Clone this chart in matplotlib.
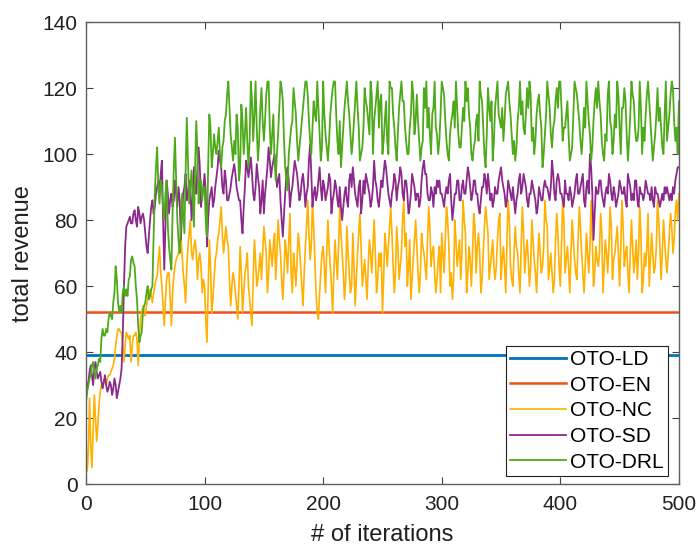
import numpy as np
import matplotlib
matplotlib.use("Agg")
import matplotlib.pyplot as plt

plt.rcParams['font.family'] = ['Liberation Sans', 'DejaVu Sans']

# one value per iteration, 0..500
iters = np.arange(0, 501)

ld_value = 39.2
en_value = 52.1

nc = [
    14, 4, 10, 26, 12, 5, 16, 27, 20, 13, 18, 24, 28, 30, 29, 31, 32, 30, 32, 33, 33, 34, 35, 36, 38,
    42, 45, 47, 47, 46, 46, 42, 37, 42, 46, 45, 44, 45, 37, 42, 45, 45, 46, 44, 36, 44, 50, 52, 54, 52,
    51, 54, 56, 58, 59, 57, 55, 58, 60, 62, 63, 68, 72, 64, 60, 54, 48, 56, 62, 64, 64, 56, 48, 58, 63,
    66, 68, 69, 70, 72, 75, 70, 64, 60, 55, 66, 72, 76, 80, 70, 68, 72, 74, 70, 62, 68, 70, 66, 58, 62,
    60, 50, 43, 58, 74, 66, 52, 56, 62, 68, 70, 74, 76, 80, 84, 76, 70, 74, 78, 74, 72, 62, 54, 60, 64,
    62, 58, 54, 50, 60, 72, 64, 52, 58, 64, 66, 70, 60, 56, 52, 48, 62, 74, 68, 60, 62, 66, 70, 62, 70,
    78, 74, 70, 58, 64, 74, 70, 66, 72, 76, 62, 70, 80, 74, 70, 62, 56, 64, 74, 70, 64, 74, 82, 64, 58,
    70, 66, 60, 68, 76, 72, 66, 60, 54, 64, 72, 78, 86, 76, 68, 72, 86, 78, 68, 58, 52, 50, 58, 64, 70,
    72, 66, 58, 70, 80, 72, 66, 60, 52, 64, 74, 68, 62, 72, 84, 76, 70, 64, 56, 62, 78, 70, 64, 58, 60,
    76, 66, 54, 62, 70, 76, 82, 72, 60, 64, 68, 62, 56, 66, 74, 70, 64, 72, 80, 70, 58, 62, 70, 66, 70,
    52, 62, 76, 72, 66, 72, 78, 84, 76, 66, 58, 64, 78, 72, 62, 66, 70, 80, 86, 72, 76, 60, 66, 74, 56,
    62, 68, 74, 80, 72, 64, 58, 64, 76, 72, 70, 66, 62, 74, 84, 78, 66, 70, 72, 64, 58, 62, 68, 72, 58,
    76, 70, 64, 74, 84, 80, 72, 60, 64, 56, 62, 80, 74, 66, 70, 74, 62, 70, 86, 80, 76, 58, 64, 72, 68,
    60, 70, 82, 78, 64, 72, 76, 70, 58, 62, 70, 78, 84, 80, 76, 62, 66, 70, 74, 66, 62, 66, 74, 80, 82,
    62, 68, 72, 66, 58, 74, 86, 80, 66, 62, 60, 70, 78, 72, 70, 64, 58, 72, 84, 76, 64, 70, 74, 68, 60,
    66, 80, 74, 68, 64, 58, 68, 76, 70, 64, 66, 72, 86, 80, 78, 62, 66, 70, 64, 58, 62, 74, 82, 76, 66,
    60, 72, 86, 80, 64, 68, 72, 66, 58, 70, 80, 74, 68, 64, 62, 74, 84, 78, 70, 64, 58, 66, 76, 70, 64,
    72, 86, 74, 60, 64, 72, 68, 66, 70, 82, 76, 58, 66, 74, 70, 64, 72, 84, 78, 62, 68, 70, 74, 78, 70,
    60, 72, 86, 78, 66, 70, 72, 64, 58, 70, 80, 72, 64, 68, 74, 62, 70, 84, 76, 58, 62, 70, 66, 72, 82,
    60, 68, 76, 70, 64, 66, 72, 86, 80, 72, 62, 70, 80, 74, 68, 64, 70, 76, 82, 78, 70, 74, 82, 86, 80,
    88,
]

sd = [
    28, 30, 31, 34, 36, 33, 30, 35, 37, 34, 32, 33, 34, 31, 29, 31, 33, 30, 28, 29, 31, 30, 27, 29, 32,
    30, 26, 28, 30, 32, 35, 45, 60, 72, 78, 79, 80, 81, 79, 79, 82, 83, 80, 78, 84, 82, 79, 81, 82, 80,
    76, 72, 70, 75, 80, 84, 86, 82, 84, 88, 90, 92, 88, 94, 98, 80, 65, 78, 92, 88, 82, 86, 88, 84, 86,
    92, 88, 84, 90, 86, 74, 82, 88, 90, 94, 86, 88, 92, 90, 80, 86, 96, 90, 88, 96, 102, 96, 84, 88, 90,
    94, 88, 72, 80, 86, 88, 90, 84, 86, 90, 93, 96, 101, 98, 96, 90, 88, 95, 92, 86, 86, 88, 90, 93, 95,
    97, 94, 90, 88, 86, 86, 80, 76, 84, 90, 98, 96, 93, 96, 99, 94, 88, 86, 90, 97, 93, 90, 82, 86, 92,
    82, 88, 92, 96, 102, 98, 93, 96, 98, 100, 96, 90, 92, 94, 86, 80, 75, 82, 88, 94, 96, 92, 84, 88, 90,
    94, 98, 96, 94, 90, 86, 88, 92, 94, 90, 84, 88, 90, 98, 103, 94, 84, 88, 90, 86, 88, 92, 96, 90, 86,
    92, 90, 86, 88, 90, 94, 92, 82, 86, 88, 92, 90, 86, 84, 90, 84, 80, 84, 88, 90, 86, 84, 92, 94, 90,
    96, 92, 88, 86, 84, 90, 92, 82, 86, 92, 88, 94, 92, 90, 88, 84, 86, 90, 98, 92, 90, 86, 84, 88, 92,
    90, 94, 98, 96, 92, 88, 86, 84, 88, 90, 94, 92, 86, 90, 92, 96, 94, 88, 86, 92, 92, 88, 82, 84, 88,
    94, 92, 90, 86, 88, 88, 84, 86, 92, 96, 98, 94, 94, 88, 86, 86, 90, 88, 84, 90, 88, 92, 90, 92, 88,
    88, 86, 84, 88, 90, 88, 92, 94, 86, 80, 84, 88, 88, 92, 92, 86, 86, 90, 92, 88, 88, 92, 96, 94, 90,
    86, 88, 92, 92, 88, 88, 84, 82, 86, 90, 90, 94, 92, 88, 94, 90, 86, 88, 84, 86, 90, 88, 88, 92, 94,
    96, 92, 90, 88, 84, 86, 92, 90, 88, 86, 90, 86, 82, 86, 88, 92, 94, 88, 90, 94, 92, 90, 86, 84, 88,
    88, 92, 90, 88, 86, 82, 84, 90, 88, 86, 86, 90, 92, 90, 90, 88, 86, 90, 98, 94, 88, 86, 92, 94, 92,
    88, 88, 86, 84, 92, 88, 88, 86, 90, 88, 84, 86, 88, 92, 94, 88, 88, 90, 92, 94, 86, 84, 90, 92, 88,
    100, 96, 88, 74, 82, 90, 88, 88, 92, 92, 88, 86, 84, 88, 90, 88, 94, 92, 88, 86, 90, 88, 84, 86, 88,
    92, 90, 88, 88, 90, 86, 84, 94, 92, 90, 86, 88, 86, 92, 92, 86, 84, 90, 88, 88, 86, 88, 92, 90, 88,
    88, 86, 90, 86, 84, 90, 88, 88, 86, 84, 86, 88, 86, 90, 88, 90, 88, 86, 88, 86, 90, 88, 92, 94, 96,
    96,
]

drl = [
    25, 28, 30, 32, 33, 36, 37, 34, 32, 35, 36, 38, 37, 44, 47, 45, 45, 47, 46, 50, 52, 51, 50, 55, 58,
    66, 62, 55, 52, 54, 52, 58, 60, 57, 59, 57, 62, 63, 68, 69, 67, 66, 60, 56, 48, 43, 45, 46, 52, 54,
    55, 58, 60, 56, 57, 59, 60, 75, 88, 96, 102, 90, 85, 92, 90, 84, 80, 88, 92, 78, 72, 68, 65, 82, 95,
    105, 92, 80, 74, 70, 78, 88, 82, 76, 95, 111, 98, 85, 90, 95, 88, 78, 96, 110, 100, 85, 92, 92, 86, 90,
    90, 80, 75, 96, 112, 108, 96, 100, 106, 102, 100, 104, 108, 100, 96, 102, 104, 110, 112, 118, 122, 114, 106, 102, 98,
    104, 100, 112, 108, 92, 96, 115, 110, 100, 106, 114, 104, 96, 104, 122, 116, 104, 112, 122, 108, 98, 104, 114, 120, 110,
    104, 110, 118, 122, 122, 108, 100, 106, 112, 98, 92, 100, 106, 114, 122, 120, 116, 104, 96, 92, 89, 100, 104, 108, 110,
    120, 116, 112, 104, 98, 102, 106, 110, 114, 118, 122, 122, 118, 110, 104, 100, 108, 116, 112, 110, 122, 114, 106, 98, 102,
    122, 112, 106, 102, 98, 104, 112, 116, 120, 122, 122, 112, 104, 100, 110, 96, 102, 108, 114, 118, 122, 116, 112, 106, 100,
    104, 110, 116, 122, 114, 108, 98, 100, 102, 108, 120, 116, 114, 110, 106, 122, 118, 100, 110, 114, 118, 122, 108, 116, 118,
    100, 104, 110, 116, 104, 100, 122, 120, 120, 112, 108, 102, 98, 106, 114, 118, 122, 116, 116, 108, 104, 100, 100, 108, 112,
    122, 118, 106, 110, 118, 110, 104, 98, 102, 104, 120, 114, 122, 108, 114, 106, 100, 112, 114, 122, 108, 106, 100, 104, 112,
    122, 120, 118, 110, 104, 100, 98, 106, 110, 112, 116, 108, 122, 114, 106, 102, 102, 108, 114, 110, 122, 116, 120, 112, 108,
    100, 98, 102, 104, 110, 112, 104, 122, 118, 116, 108, 100, 96, 106, 120, 114, 110, 116, 98, 104, 114, 118, 122, 112, 110,
    108, 114, 104, 110, 118, 120, 122, 116, 112, 106, 100, 104, 98, 102, 110, 114, 122, 112, 116, 108, 106, 112, 120, 114, 122,
    118, 104, 108, 100, 104, 112, 116, 118, 112, 108, 96, 100, 106, 112, 122, 118, 114, 106, 102, 108, 110, 116, 120, 114, 122,
    122, 114, 104, 108, 108, 112, 116, 106, 98, 100, 102, 112, 122, 120, 118, 114, 110, 104, 100, 106, 114, 108, 122, 116, 110,
    106, 98, 102, 110, 116, 120, 114, 122, 116, 112, 104, 100, 98, 106, 104, 118, 122, 110, 108, 100, 104, 112, 108, 122, 118,
    108, 100, 114, 114, 120, 116, 106, 98, 104, 112, 122, 118, 116, 108, 104, 104, 108, 122, 114, 100, 108, 104, 112, 118, 122,
    116, 110, 104, 98, 102, 106, 112, 120, 110, 114, 108, 102, 100, 112, 122, 104, 108, 112, 118, 122, 120, 110, 104, 108, 100,
    116,
]

assert len(nc) == len(iters) and len(sd) == len(iters) and len(drl) == len(iters)

fig = plt.figure(figsize=(6.97, 5.52), dpi=100)
ax = fig.add_axes([0.1234, 0.123, 0.8506, 0.837])

ax.plot([iters[0], iters[-1]], [ld_value, ld_value], color='#0072BD', lw=2.0, label='OTO-LD')
ax.plot([iters[0], iters[-1]], [en_value, en_value], color='#F2501A', lw=1.8, label='OTO-EN')
ax.plot(iters, nc, color='#FFB000', lw=1.2, label='OTO-NC')
ax.plot(iters, sd, color='#8B2A8C', lw=1.3, label='OTO-SD')
ax.plot(iters, drl, color='#4EAA1A', lw=1.3, label='OTO-DRL')

ax.set_xlim(0, 500)
ax.set_ylim(0, 140)
ax.set_xticks(range(0, 501, 100))
ax.set_yticks(range(0, 141, 20))
ax.tick_params(axis='both', direction='in', length=5, width=0.8, labelsize=15,
               color='#404040', labelcolor='#202020', top=True, right=True)
ax.tick_params(axis='x', pad=8)
ax.tick_params(axis='y', pad=6)
for s in ax.spines.values():
    s.set_color('#606060')
    s.set_linewidth(1.0)

ax.set_xlabel('# of iterations', fontsize=17, labelpad=7, color='#202020')
ax.set_ylabel('total revenue', fontsize=17, labelpad=6, color='#202020')

leg = ax.legend(loc='lower right', bbox_to_anchor=(0.982, 0.018), fontsize=15,
                handlelength=2.7, handletextpad=0.2, borderpad=0.2, labelspacing=0.32,
                fancybox=False, framealpha=1, edgecolor='#202020', borderaxespad=0)
leg.get_frame().set_linewidth(0.8)

fig.savefig('out.png', dpi=100)
